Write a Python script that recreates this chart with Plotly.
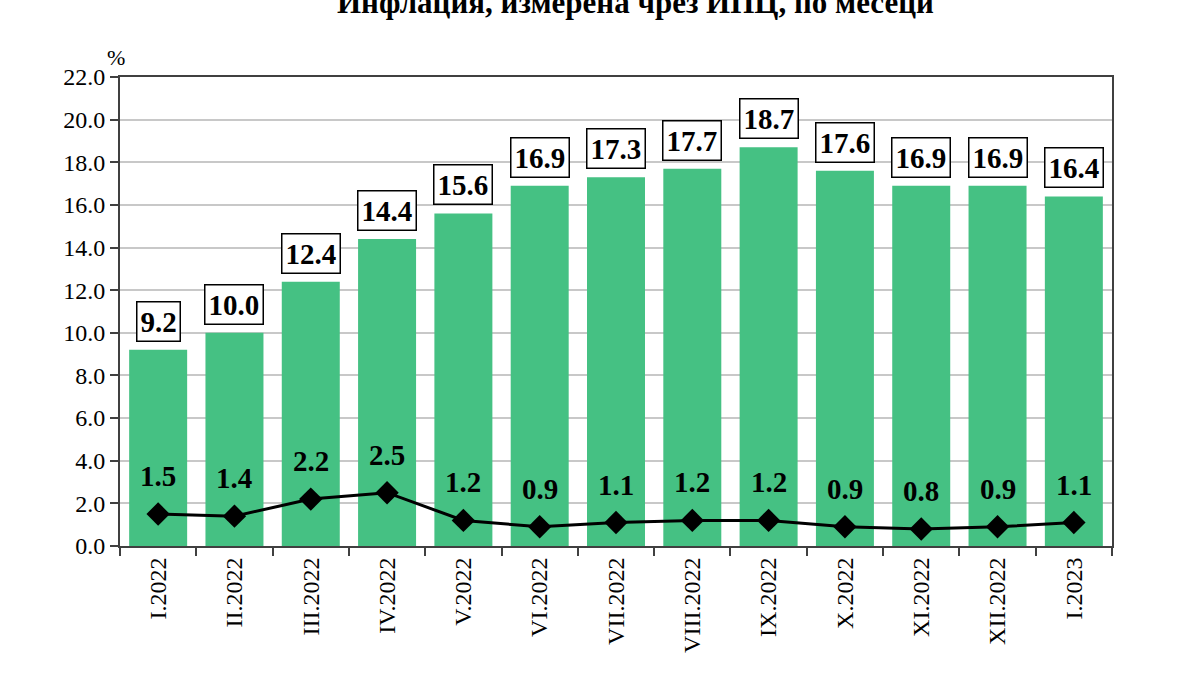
import plotly.graph_objects as go

categories = ["I.2022", "II.2022", "III.2022", "IV.2022", "V.2022", "VI.2022", "VII.2022",
              "VIII.2022", "IX.2022", "X.2022", "XI.2022", "XII.2022", "I.2023"]
annual = [9.2, 10.0, 12.4, 14.4, 15.6, 16.9, 17.3, 17.7, 18.7, 17.6, 16.9, 16.9, 16.4]
monthly = [1.5, 1.4, 2.2, 2.5, 1.2, 0.9, 1.1, 1.2, 1.2, 0.9, 0.8, 0.9, 1.1]
yticks = [0, 2, 4, 6, 8, 10, 12, 14, 16, 18, 20, 22]
title = "Инфлация, измерена чрез ИПЦ, по месеци"

FONT = "Liberation Serif"

fig = go.Figure()
fig.add_trace(go.Bar(x=categories, y=annual, marker=dict(color="#45C183", line=dict(width=0)),
                     width=0.76, showlegend=False))
fig.add_trace(go.Scatter(x=categories, y=monthly, mode="lines+markers",
                         line=dict(color="black", width=3),
                         marker=dict(symbol="diamond", size=18, color="black"),
                         showlegend=False))

for c, v in zip(categories, annual):
    fig.add_annotation(x=c, y=v, text="<b>%.1f</b>" % v, showarrow=False, yanchor="bottom",
                       yshift=8, font=dict(family=FONT, size=29, color="black"),
                       bgcolor="white", bordercolor="black", borderwidth=1.5, borderpad=3)
for c, v in zip(categories, monthly):
    fig.add_annotation(x=c, y=v, text="<b>%.1f</b>" % v, showarrow=False, yanchor="middle",
                       yshift=38, font=dict(family=FONT, size=29, color="black"))

fig.add_annotation(xref="paper", yref="paper", x=0.0, y=1.0, xshift=-4, yshift=20, text="%",
                   showarrow=False, xanchor="center", yanchor="middle",
                   font=dict(family=FONT, size=22, color="black"))
fig.add_annotation(xref="paper", yref="paper", x=0.52, y=1.0, yshift=75, text="<b>" + title + "</b>",
                   showarrow=False, xanchor="center", yanchor="middle",
                   font=dict(family=FONT, size=31, color="black"))

fig.update_layout(
    width=1200, height=675,
    margin=dict(l=120, r=88, t=77, b=129),
    plot_bgcolor="white", paper_bgcolor="white",
    font=dict(family=FONT, size=24, color="black"),
    xaxis=dict(type="category", range=[-0.5, 12.5], tickangle=-90, tickson="boundaries",
               ticks="outside", ticklen=8, tickwidth=2, tickcolor="#404040", showline=True,
               linecolor="#404040", linewidth=2, mirror=True, showgrid=False,
               tickfont=dict(family=FONT, size=24, color="black")),
    yaxis=dict(range=[0, 22], tickvals=yticks, ticktext=["%.1f" % t for t in yticks],
               ticks="outside", ticklen=8, tickwidth=2, tickcolor="#404040",
               showline=True, linecolor="#404040", linewidth=2, mirror=True,
               showgrid=True, gridcolor="#C8C8C8", gridwidth=1.5, zeroline=False,
               tickfont=dict(family=FONT, size=24, color="black")),
)

fig.write_html("out.html")
